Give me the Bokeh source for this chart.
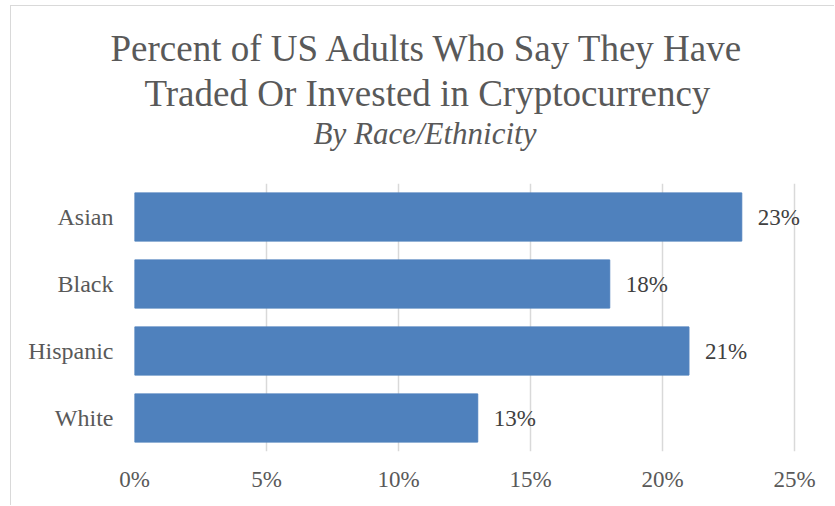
from bokeh.plotting import figure
from bokeh.models import ColumnDataSource, FactorRange, Range1d, NumeralTickFormatter, Title
from bokeh.core.properties import value
from bokeh.embed import file_html
from bokeh.resources import INLINE

categories = ["Asian", "Black", "Hispanic", "White"]
percents = [0.23, 0.18, 0.21, 0.13]
labels = ["23%", "18%", "21%", "13%"]
x_ticks = [0, 0.05, 0.10, 0.15, 0.20, 0.25]
title_lines = ["Percent of US Adults Who Say They Have",
               "Traded Or Invested in Cryptocurrency"]
subtitle = "By Race/Ethnicity"

FONT = "Liberation Serif"

src = ColumnDataSource(dict(cat=categories, val=percents, lab=labels))

p = figure(
    width=824, height=500,
    y_range=FactorRange(*reversed(categories), range_padding=0),
    x_range=Range1d(0, 0.2655),
    output_backend="svg", toolbar_location=None,
    min_border_left=123, min_border_right=0, min_border_top=177, min_border_bottom=55,
)
p.styles = {"margin-left": "10px", "margin-top": "5px",
            "border-left": "1px solid #d9d9d9", "border-top": "1px solid #d9d9d9"}
p.outline_line_color = None
p.background_fill_color = "white"
p.border_fill_color = "white"

p.hbar(y="cat", right="val", left=0, height=0.72, source=src,
       fill_color="#4f81bd", line_color="#4f81bd")
p.text(x="val", y="cat", text="lab", source=src, x_offset=16,
       text_baseline="middle", text_align="left",
       text_font=value(FONT), text_font_size="23px", text_color="#404040")

# axes
p.xaxis.ticker = x_ticks
p.xaxis.formatter = NumeralTickFormatter(format="0%")
for ax in (p.xaxis, p.yaxis):
    ax.axis_line_color = None
    ax.major_tick_line_color = None
    ax.minor_tick_line_color = None
    ax.major_label_text_font = FONT
    ax.major_label_text_color = "#595959"
    ax.major_label_text_font_size = "23px"
p.yaxis.major_label_text_font_size = "24px"
p.xaxis.major_label_standoff = 9
p.yaxis.major_label_standoff = 15

p.xgrid.grid_line_color = "#d9d9d9"
p.xgrid.grid_line_width = 1.5
p.ygrid.grid_line_color = None

# titles: p.title is outermost; added titles stack outward from the frame
p.title.text = title_lines[0]
p.title.text_font = FONT
p.title.text_font_style = "normal"
p.title.text_font_size = "37px"
p.title.text_color = "#595959"
p.title.align = "left"
p.title.offset = -24
p.title.standoff = 4

# invisible spacer between the frame and the subtitle
p.add_layout(Title(text=" ", text_font_size="1px", standoff=29), "above")
p.add_layout(Title(text=subtitle, text_font=FONT,
                   text_font_style="italic", text_font_size="31px", text_color="#595959",
                   align="left", offset=179, standoff=1), "above")
p.add_layout(Title(text=title_lines[1], text_font=FONT,
                   text_font_style="normal", text_font_size="37px", text_color="#595959",
                   align="left", offset=10, standoff=0), "above")

open("out.html", "w").write(file_html(p, INLINE))
